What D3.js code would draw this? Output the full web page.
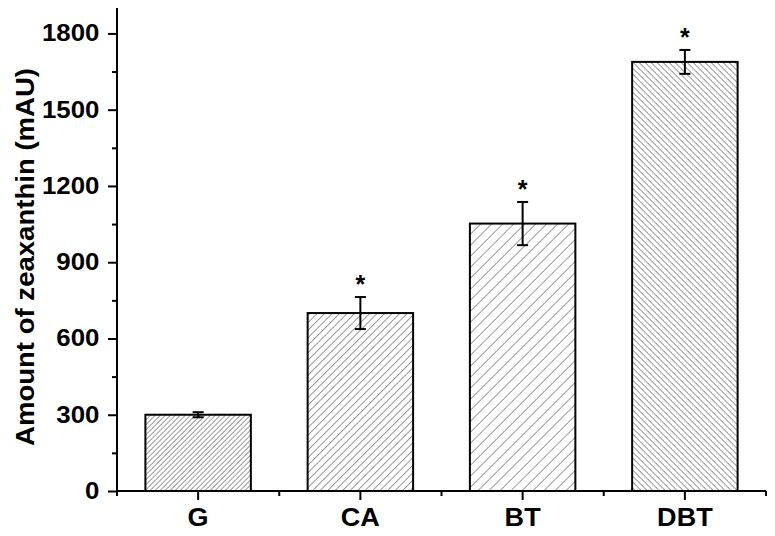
<!DOCTYPE html>
<html lang="en">
<head>
    <meta charset="UTF-8">
    <title>Zeaxanthin</title>
    <script src="https://cdnjs.cloudflare.com/ajax/libs/d3/7.8.5/d3.min.js"></script>
    <style>
        body { margin: 0; background: white; }
        text { font-family: "Liberation Sans", Arial, sans-serif; font-weight: bold; }
    </style>
</head>
<body>
    <svg id="chart"></svg>
    <script>
        const categories = ["G", "CA", "BT", "DBT"];
        const values = [300, 700, 1052, 1688];
        const errors = [10, 63, 85, 47];
        const significant = [false, true, true, true];
        const yTicks = [0, 300, 600, 900, 1200, 1500, 1800];
        const yMinorTicks = [150, 450, 750, 1050, 1350, 1650];
        // hatch: horizontal period in px, direction
        const hatchPeriod = [5, 7.5, 11, 6];
        const hatchDir = [45, 45, 45, -45];

        const width = 775, height = 536;
        const plotLeft = 117, plotRight = 766, plotTop = 8, plotBottom = 491;

        const svg = d3.select("#chart").attr("width", width).attr("height", height);

        const x = d3.scaleBand().domain(categories).range([plotLeft, plotRight])
            .paddingInner(0.35).paddingOuter(0.175);
        const y = d3.scaleLinear().domain([0, 1900]).range([plotBottom, plotTop]);

        const defs = svg.append("defs");
        categories.forEach((c, i) => {
            const s = hatchPeriod[i] / Math.SQRT2;
            const p = defs.append("pattern")
                .attr("id", "hatch" + i)
                .attr("patternUnits", "userSpaceOnUse")
                .attr("width", s).attr("height", s)
                .attr("patternTransform", "rotate(" + hatchDir[i] + ")");
            p.append("line")
                .attr("x1", 0).attr("y1", 0).attr("x2", 0).attr("y2", s)
                .attr("stroke", "#4a4a4a").attr("stroke-width", 1.1);
        });

        // bars
        svg.selectAll("rect.bar")
            .data(categories)
            .join("rect")
            .attr("class", "bar")
            .attr("x", d => x(d))
            .attr("y", (d, i) => y(values[i]))
            .attr("width", x.bandwidth())
            .attr("height", (d, i) => y(0) - y(values[i]))
            .attr("fill", (d, i) => "url(#hatch" + i + ")")
            .attr("stroke", "black")
            .attr("stroke-width", 2);

        // error bars
        const eb = svg.selectAll("g.err")
            .data(categories)
            .join("g")
            .attr("class", "err")
            .attr("stroke", "black")
            .attr("stroke-width", 2);
        const cx = d => x(d) + x.bandwidth() / 2;
        eb.append("line")
            .attr("x1", cx).attr("x2", cx)
            .attr("y1", (d, i) => y(values[i] + errors[i]))
            .attr("y2", (d, i) => y(values[i] - errors[i]));
        eb.append("line")
            .attr("x1", d => cx(d) - 5.5).attr("x2", d => cx(d) + 5.5)
            .attr("y1", (d, i) => y(values[i] + errors[i]))
            .attr("y2", (d, i) => y(values[i] + errors[i]));
        eb.append("line")
            .attr("x1", d => cx(d) - 5.5).attr("x2", d => cx(d) + 5.5)
            .attr("y1", (d, i) => y(values[i] - errors[i]))
            .attr("y2", (d, i) => y(values[i] - errors[i]));

        // stars
        svg.selectAll("text.star")
            .data(categories.filter((d, i) => significant[i]))
            .join("text")
            .attr("class", "star")
            .attr("x", cx)
            .attr("y", d => { const i = categories.indexOf(d); return y(values[i] + errors[i]) - 4; })
            .attr("text-anchor", "middle")
            .attr("font-size", 25)
            .text("*");

        // y axis
        const yAxis = svg.append("g")
            .attr("transform", "translate(" + plotLeft + ",0)")
            .call(d3.axisLeft(y).tickValues(yTicks).tickFormat(d3.format("d"))
                .tickSize(9).tickPadding(7).tickSizeOuter(0));
        yAxis.select(".domain").attr("stroke-width", 2).attr("d", "M0," + plotTop + "V" + plotBottom);
        yAxis.selectAll(".tick line").attr("stroke-width", 2);
        yAxis.selectAll(".tick text").attr("font-size", 23.5).attr("fill", "black")
            .attr("transform", "scale(1.1,1)")
            .style("font-family", "'Liberation Sans', Arial, sans-serif").style("font-weight", "bold");
        svg.append("g")
            .attr("transform", "translate(" + plotLeft + ",0)")
            .call(d3.axisLeft(y).tickValues(yMinorTicks).tickSize(5).tickFormat(""))
            .call(g => g.select(".domain").remove())
            .selectAll(".tick line").attr("stroke-width", 2);

        // x axis
        const xAxis = svg.append("g")
            .attr("transform", "translate(0," + plotBottom + ")")
            .call(d3.axisBottom(x).tickSize(9).tickPadding(8).tickSizeOuter(0));
        xAxis.select(".domain").attr("stroke-width", 2).attr("d", "M" + plotLeft + ",0H" + plotRight);
        xAxis.selectAll(".tick line").attr("stroke-width", 2);
        xAxis.selectAll(".tick text").attr("font-size", 25.5).attr("fill", "black")
            .attr("transform", "scale(1.06,1)")
            .style("font-family", "'Liberation Sans', Arial, sans-serif").style("font-weight", "bold");
        // minor x ticks at band boundaries
        const xMinor = categories.map(d => x(d) - x.step() * x.paddingInner() / 2)
            .concat([plotRight]);
        svg.append("g").selectAll("line")
            .data(xMinor)
            .join("line")
            .attr("x1", d => d).attr("x2", d => d)
            .attr("y1", plotBottom).attr("y2", plotBottom + 5)
            .attr("stroke", "black").attr("stroke-width", 2);

        // y label
        svg.append("text")
            .attr("transform", "translate(34,257) rotate(-90) scale(1.06,1)")
            .attr("text-anchor", "middle")
            .attr("font-size", 26)
            .text("Amount of zeaxanthin (mAU)");
    </script>
</body>
</html>
